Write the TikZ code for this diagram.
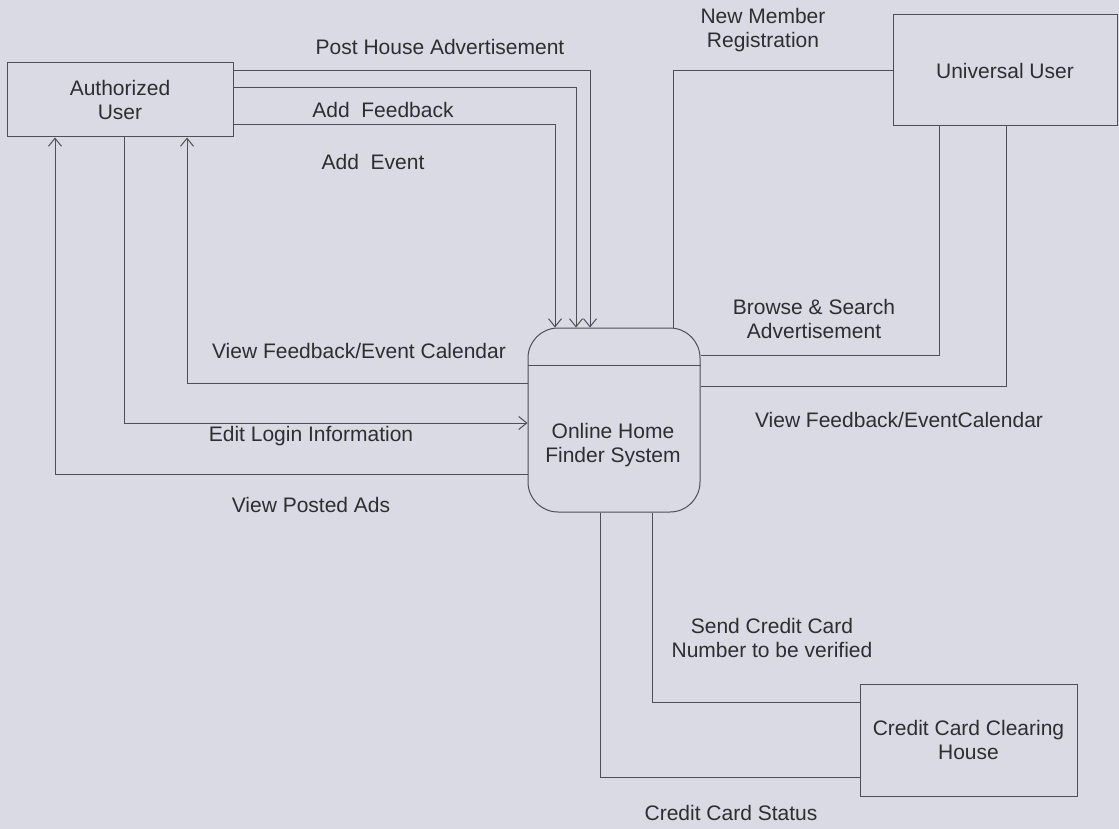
\documentclass[tikz,border=0pt]{standalone}
\usepackage{fontspec}
\setmainfont{Liberation Sans}
\usetikzlibrary{arrows.meta}
\definecolor{bg}{RGB}{218,218,228}
\definecolor{ink}{RGB}{78,78,84}
\definecolor{txt}{RGB}{45,45,50}
\begin{document}
\begin{tikzpicture}[x=1pt,y=-1pt,
  box/.style={draw=ink,line width=1pt,inner sep=0pt,align=center,text=txt,font=\fontsize{21}{24}\selectfont},
  lbl/.style={text=txt,font=\fontsize{21}{24}\selectfont,align=center,inner sep=0pt},
  flow/.style={draw=ink,line width=1pt},
  arr/.style={flow,-{Straight Barb[length=8pt,width=13pt]}}]
\fill[bg] (0,0) rectangle (1119,829);
\useasboundingbox (0,0) rectangle (1119,829);

% entities and process
\node[box,minimum width=226pt,minimum height=74pt] (auth) at (120,100) {Authorized\\User};
\node[box,minimum width=224pt,minimum height=111pt] (univ) at (1005,70.5) {Universal User};
\node[box,minimum width=217pt,minimum height=112pt] (cc) at (968.5,740) {Credit Card Clearing\\House};
\node[box,rounded corners=30pt,minimum width=172pt,minimum height=184pt] (ohfs) at (614,420) {};
\node[lbl] (ohfstext) at (613,445) {Online Home\\Finder System};
\draw[flow] (ohfs.west |- 0,365) -- (ohfs.east |- 0,365);

% flows from Authorized User
\draw[arr] (auth.east |- 0,71) -| (ohfs.north -| 590,0);
\draw[arr] (auth.east |- 0,88) -| (ohfs.north -| 576,0);
\draw[arr] (auth.east |- 0,125) -| (ohfs.north -| 555,0);
\draw[arr] (ohfs.west |- 0,383) -| (auth.south -| 187,0);
\draw[arr] (auth.south -| 124,0) |- (ohfs.west |- 0,423);
\draw[arr] (ohfs.west |- 0,474) -| (auth.south -| 55,0);

% flows with Universal User
\draw[flow] (univ.west |- 0,71) -| (ohfs.north -| 673,0);
\draw[flow] (univ.south -| 939,0) |- (ohfs.east |- 0,355);
\draw[flow] (univ.south -| 1006,0) |- (ohfs.east |- 0,386);

% flows with Credit Card Clearing House
\draw[flow] (ohfs.south -| 652,0) |- (cc.west |- 0,702);
\draw[flow] (cc.west |- 0,777) -| (ohfs.south -| 600,0);

% labels
\node[lbl] (lpost) at (440,47) {Post House Advertisement};
\node[lbl] (lfeed) at (383,110) {Add\ \ Feedback};
\node[lbl] (levent) at (373,162) {Add\ \ Event};
\node[lbl] (lnew) at (763,30.5) {New Member\\Registration};
\node[lbl] (lbrowse) at (814,318.5) {Browse \& Search\\Advertisement};
\node[lbl] (lviewr) at (899,420) {View Feedback/EventCalendar};
\node[lbl] (lviewl) at (359,351) {View Feedback/Event Calendar};
\node[lbl] (ledit) at (311,436) {Edit Login Information};
\node[lbl] (lposted) at (311,505) {View Posted Ads};
\node[lbl] (lsend) at (772,637.5) {Send Credit Card\\Number to be verified};
\node[lbl] (lstatus) at (731,813) {Credit Card Status};
\end{tikzpicture}
\end{document}
